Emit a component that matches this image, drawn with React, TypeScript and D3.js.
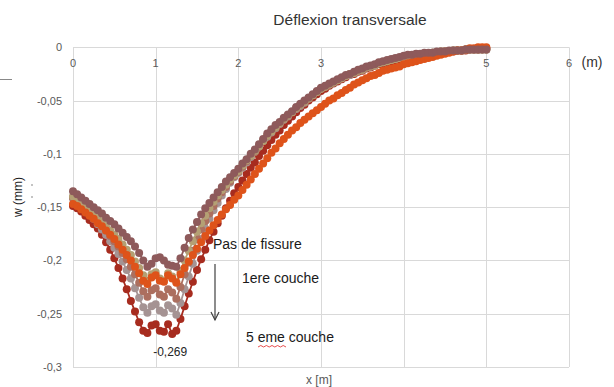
import React from 'react';
import * as d3 from 'd3';

// Abscissa along the slab (m), sampled every 5 cm
const positions = [
  0, 0.05, 0.1, 0.15, 0.2, 0.25, 0.3, 0.35, 0.4, 0.45,
  0.5, 0.55, 0.6, 0.65, 0.7, 0.75, 0.8, 0.85, 0.9, 0.95,
  1, 1.05, 1.1, 1.15, 1.2, 1.25, 1.3, 1.35, 1.4, 1.45,
  1.5, 1.55, 1.6, 1.65, 1.7, 1.75, 1.8, 1.85, 1.9, 1.95,
  2, 2.05, 2.1, 2.15, 2.2, 2.25, 2.3, 2.35, 2.4, 2.45,
  2.5, 2.55, 2.6, 2.65, 2.7, 2.75, 2.8, 2.85, 2.9, 2.95,
  3, 3.05, 3.1, 3.15, 3.2, 3.25, 3.3, 3.35, 3.4, 3.45,
  3.5, 3.55, 3.6, 3.65, 3.7, 3.75, 3.8, 3.85, 3.9, 3.95,
  4, 4.05, 4.1, 4.15, 4.2, 4.25, 4.3, 4.35, 4.4, 4.45,
  4.5, 4.55, 4.6, 4.65, 4.7, 4.75, 4.8, 4.85, 4.9, 4.95,
  5,
];

// Transverse deflection w (mm) for each cracking state
const sansFissure = [
  -0.135, -0.138, -0.141, -0.144, -0.147, -0.150, -0.153, -0.156, -0.160, -0.163,
  -0.166, -0.170, -0.174, -0.178, -0.182, -0.187, -0.193, -0.200, -0.206, -0.203,
  -0.198, -0.197, -0.200, -0.204, -0.205, -0.206, -0.198, -0.188, -0.179, -0.171,
  -0.164, -0.157, -0.151, -0.146, -0.141, -0.136, -0.131, -0.126, -0.122, -0.118,
  -0.114, -0.109, -0.105, -0.100, -0.096, -0.091, -0.086, -0.081, -0.077, -0.073,
  -0.070, -0.066, -0.063, -0.060, -0.056, -0.053, -0.050, -0.047, -0.044, -0.041,
  -0.038, -0.036, -0.034, -0.032, -0.030, -0.028, -0.026, -0.025, -0.023, -0.021,
  -0.020, -0.018, -0.017, -0.016, -0.014, -0.013, -0.012, -0.011, -0.010, -0.009,
  -0.008, -0.007, -0.007, -0.006, -0.006, -0.005, -0.005, -0.005, -0.004, -0.004,
  -0.004, -0.003, -0.003, -0.003, -0.003, -0.002, -0.002, -0.002, -0.002, -0.002,
  -0.002,
];

const couche1 = [
  -0.147, -0.149, -0.152, -0.155, -0.158, -0.161, -0.165, -0.168, -0.172, -0.176,
  -0.180, -0.185, -0.190, -0.195, -0.200, -0.206, -0.212, -0.219, -0.222, -0.216,
  -0.214, -0.219, -0.220, -0.214, -0.217, -0.221, -0.213, -0.207, -0.201, -0.195,
  -0.189, -0.183, -0.177, -0.172, -0.167, -0.162, -0.157, -0.152, -0.148, -0.143,
  -0.139, -0.134, -0.129, -0.124, -0.119, -0.114, -0.109, -0.104, -0.099, -0.095,
  -0.090, -0.086, -0.082, -0.078, -0.075, -0.071, -0.068, -0.065, -0.062, -0.059,
  -0.056, -0.053, -0.050, -0.048, -0.045, -0.043, -0.040, -0.038, -0.035, -0.033,
  -0.031, -0.029, -0.027, -0.026, -0.024, -0.022, -0.021, -0.020, -0.019, -0.018,
  -0.016, -0.015, -0.014, -0.013, -0.012, -0.011, -0.010, -0.009, -0.008, -0.007,
  -0.006, -0.005, -0.004, -0.003, -0.003, -0.002, -0.001, -0.001, 0.000, 0.000,
  0.000,
];

const couche2 = [
  -0.140, -0.143, -0.146, -0.150, -0.153, -0.157, -0.160, -0.164, -0.168, -0.172,
  -0.176, -0.180, -0.185, -0.190, -0.195, -0.201, -0.207, -0.214, -0.219, -0.213,
  -0.211, -0.217, -0.219, -0.212, -0.215, -0.220, -0.210, -0.200, -0.191, -0.182,
  -0.173, -0.165, -0.158, -0.151, -0.145, -0.139, -0.134, -0.129, -0.124, -0.120,
  -0.116, -0.111, -0.106, -0.102, -0.097, -0.093, -0.088, -0.083, -0.079, -0.075,
  -0.071, -0.067, -0.064, -0.061, -0.057, -0.054, -0.051, -0.048, -0.045, -0.042,
  -0.039, -0.037, -0.035, -0.033, -0.031, -0.029, -0.027, -0.025, -0.024, -0.022,
  -0.021, -0.019, -0.018, -0.017, -0.015, -0.014, -0.013, -0.012, -0.011, -0.010,
  -0.009, -0.008, -0.008, -0.007, -0.007, -0.006, -0.006, -0.005, -0.005, -0.004,
  -0.004, -0.004, -0.003, -0.003, -0.003, -0.002, -0.002, -0.002, -0.002, -0.002,
  -0.002,
];

const couche3 = [
  -0.141, -0.144, -0.148, -0.151, -0.155, -0.159, -0.163, -0.167, -0.172, -0.177,
  -0.182, -0.187, -0.193, -0.199, -0.206, -0.213, -0.221, -0.229, -0.234, -0.228,
  -0.226, -0.232, -0.234, -0.227, -0.230, -0.236, -0.225, -0.213, -0.202, -0.191,
  -0.180, -0.171, -0.163, -0.156, -0.149, -0.142, -0.136, -0.131, -0.126, -0.121,
  -0.117, -0.112, -0.107, -0.102, -0.098, -0.093, -0.088, -0.083, -0.079, -0.075,
  -0.071, -0.067, -0.064, -0.061, -0.057, -0.054, -0.051, -0.048, -0.045, -0.042,
  -0.039, -0.037, -0.035, -0.033, -0.031, -0.029, -0.027, -0.025, -0.024, -0.022,
  -0.021, -0.019, -0.018, -0.017, -0.015, -0.014, -0.013, -0.012, -0.011, -0.010,
  -0.009, -0.008, -0.008, -0.007, -0.007, -0.006, -0.006, -0.005, -0.005, -0.004,
  -0.004, -0.004, -0.003, -0.003, -0.003, -0.002, -0.002, -0.002, -0.002, -0.002,
  -0.002,
];

const couche4 = [
  -0.142, -0.145, -0.149, -0.153, -0.157, -0.161, -0.166, -0.171, -0.176, -0.182,
  -0.188, -0.194, -0.201, -0.209, -0.217, -0.226, -0.235, -0.244, -0.249, -0.243,
  -0.241, -0.247, -0.249, -0.242, -0.245, -0.251, -0.240, -0.227, -0.215, -0.203,
  -0.191, -0.180, -0.170, -0.161, -0.153, -0.146, -0.139, -0.133, -0.127, -0.122,
  -0.118, -0.113, -0.108, -0.103, -0.098, -0.093, -0.088, -0.084, -0.080, -0.076,
  -0.072, -0.068, -0.065, -0.061, -0.058, -0.055, -0.052, -0.048, -0.045, -0.042,
  -0.039, -0.037, -0.035, -0.033, -0.031, -0.029, -0.027, -0.026, -0.024, -0.022,
  -0.021, -0.019, -0.018, -0.017, -0.015, -0.014, -0.013, -0.012, -0.011, -0.010,
  -0.009, -0.008, -0.008, -0.007, -0.007, -0.006, -0.006, -0.005, -0.005, -0.004,
  -0.004, -0.004, -0.003, -0.003, -0.003, -0.002, -0.002, -0.002, -0.002, -0.002,
  -0.002,
];

const couche5 = [
  -0.149, -0.151, -0.154, -0.158, -0.162, -0.166, -0.170, -0.176, -0.183, -0.190,
  -0.198, -0.207, -0.217, -0.227, -0.238, -0.248, -0.258, -0.266, -0.268, -0.261,
  -0.260, -0.266, -0.267, -0.260, -0.269, -0.266, -0.255, -0.243, -0.231, -0.220,
  -0.209, -0.199, -0.190, -0.181, -0.173, -0.165, -0.158, -0.151, -0.144, -0.137,
  -0.131, -0.125, -0.119, -0.113, -0.108, -0.102, -0.097, -0.092, -0.087, -0.082,
  -0.078, -0.073, -0.069, -0.065, -0.061, -0.057, -0.054, -0.050, -0.047, -0.044,
  -0.041, -0.039, -0.036, -0.034, -0.032, -0.030, -0.028, -0.026, -0.025, -0.023,
  -0.022, -0.020, -0.019, -0.017, -0.016, -0.015, -0.014, -0.013, -0.012, -0.011,
  -0.010, -0.009, -0.008, -0.008, -0.007, -0.007, -0.006, -0.006, -0.005, -0.005,
  -0.004, -0.004, -0.004, -0.003, -0.003, -0.003, -0.002, -0.002, -0.002, -0.001,
  -0.001,
];

const xTicks = [0, 1, 2, 3, 4, 5, 6];
const yTicks = [0, -0.05, -0.1, -0.15, -0.2, -0.25, -0.3];
const yTickLabels = ['0', '-0,05', '-0,1', '-0,15', '-0,2', '-0,25', '-0,3'];

// Drawn back to front
const series = [
  { name: '5 eme couche', values: couche5, color: '#a72c1f' },
  { name: '4 eme couche', values: couche4, color: '#a59393' },
  { name: '3 eme couche', values: couche3, color: '#ac6f5f' },
  { name: '2 eme couche', values: couche2, color: '#b4a074' },
  { name: '1ere couche', values: couche1, color: '#de531a' },
  { name: 'Pas de fissure', values: sansFissure, color: '#8e5a5b' },
];

const W = 614;
const H = 387;

export default function App() {
  const x = d3.scaleLinear().domain([0, 6]).range([73, 569]);
  const y = d3.scaleLinear().domain([-0.3, 0]).range([367, 47.3]);
  const line = d3
    .line<number>()
    .x((_, i) => x(positions[i]))
    .y((d) => y(d));

  const crisp = (v: number) => Math.round(v) + 0.5;

  // lowest point of the most cracked state, labelled with its value
  const minIdx = d3.minIndex(couche5);
  const minX = x(positions[minIdx]);
  const minY = y(couche5[minIdx]);

  // spell-check squiggle under "eme"
  const squiggle = d3.range(0, 11).map((k) => [258 + k * 2.8, k % 2 === 0 ? 347 : 345.5]);
  const squigglePath = d3.line()(squiggle as [number, number][]) || '';

  const font = "'Liberation Sans', Arial, sans-serif";

  return (
    <svg
      width={W}
      height={H}
      style={{ position: 'absolute', left: 0, top: 0, background: '#fff' }}
      fontFamily={font}
    >
      <rect width={W} height={H} fill="#fff" />

      {/* grid */}
      <g stroke="#d9d9d9" strokeWidth={1}>
        {yTicks.map((t) => (
          <line key={'h' + t} x1={x(0)} x2={x(6)} y1={crisp(y(t))} y2={crisp(y(t))} />
        ))}
        {xTicks.map((t) => (
          <line key={'v' + t} x1={crisp(x(t))} x2={crisp(x(t))} y1={y(0)} y2={y(-0.3)} />
        ))}
      </g>

      {/* tick labels */}
      <g fontSize={11} fill="#595959">
        {yTicks.map((t, i) => (
          <text key={'yl' + t} x={62} y={y(t) + 4} textAnchor="end">
            {yTickLabels[i]}
          </text>
        ))}
        {xTicks.map((t) => (
          <text key={'xl' + t} x={x(t)} y={67} textAnchor="middle">
            {t}
          </text>
        ))}
      </g>

      {/* series */}
      {series.map((s) => (
        <g key={s.name}>
          <path d={line(s.values) || ''} fill="none" stroke={s.color} strokeWidth={1.8} />
          {s.values.map((v, i) => (
            <circle key={i} cx={x(positions[i])} cy={y(v)} r={4} fill={s.color} />
          ))}
        </g>
      ))}

      {/* value label of the minimum */}
      <text x={minX - 2} y={minY + 22} fontSize={12} fill="#262626" textAnchor="middle">
        {couche5[minIdx].toFixed(3).replace('.', ',')}
      </text>

      {/* annotations */}
      <g fontSize={14} fill="#1a1a1a">
        <text x={213} y={249}>Pas de fissure</text>
        <text x={242} y={283}>1ere couche</text>
        <text x={246} y={342}>5 eme couche</text>
      </g>
      <path d={squigglePath} fill="none" stroke="#e02020" strokeWidth={0.8} />
      <g stroke="#404040" strokeWidth={1.2} fill="none">
        <line x1={215} y1={264} x2={215} y2={320} />
        <polyline points="211,312 215,320 219,312" />
      </g>

      {/* title and axis names */}
      <text x={350} y={25} fontSize={15.5} fill="#333" textAnchor="middle">
        Déflexion transversale
      </text>
      <text x={592} y={67} fontSize={14} fill="#333" textAnchor="middle">
        (m)
      </text>
      <text x={319} y={384} fontSize={12} fill="#595959" textAnchor="middle">
        x [m]
      </text>
      <text
        transform="translate(22,197) rotate(-90)"
        fontSize={12}
        fill="#1a1a1a"
        textAnchor="middle"
      >
        w (mm)
      </text>
      <circle cx={32} cy={185} r={0.8} fill="#777" />
      <circle cx={32} cy={197} r={0.8} fill="#777" />
      <line x1={0} x2={12} y1={79.5} y2={79.5} stroke="#888" strokeWidth={1} />
    </svg>
  );
}
